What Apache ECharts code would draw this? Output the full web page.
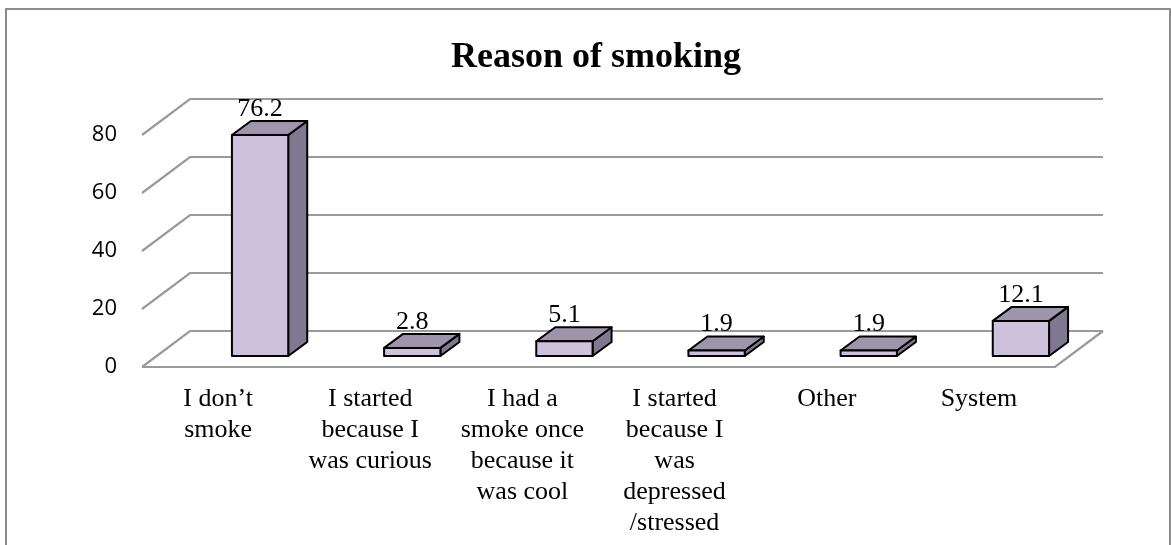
<!DOCTYPE html>
<html>
<head>
<meta charset="utf-8">
<script src="https://cdn.jsdelivr.net/npm/echarts@6.0.0/dist/echarts.min.js"></script>
<style>
  html, body { margin: 0; padding: 0; background: #fff; }
  #chart { width: 1171px; height: 545px; }
</style>
</head>
<body>
<div id="chart"></div>
<script>
// data
const categories = [
    'I don’t\nsmoke',
    'I started\nbecause I\nwas curious',
    'I had a\nsmoke once\nbecause it\nwas cool',
    'I started\nbecause I\nwas\ndepressed\n/stressed',
    'Other',
    'System'
];
const values = [76.2, 2.8, 5.1, 1.9, 1.9, 12.1];
const yTicks = [0, 20, 40, 60, 80];

// fake 3d look (pixels)
const WALL_DX = 48, WALL_DY = 36;
const BAR_DX = 19, BAR_DY = 14;
const BAR_LIFT = 11;
const GRID_COLOR = '#9a9a9a';

const serif = '"Liberation Serif", "Times New Roman", serif';

function renderWalls(params, api) {
    const v = api.value(1);
    const y = api.coord([0, v])[1];
    const cs = params.coordSys;
    const x0 = cs.x, x1 = cs.x + cs.width;
    const lineStyle = { stroke: GRID_COLOR, lineWidth: 2.2, fill: null };
    const children = [{
        type: 'polyline',
        shape: { points: [[x0, y], [x0 + WALL_DX, y - WALL_DY], [x1 + WALL_DX, y - WALL_DY]] },
        style: lineStyle
    }];
    if (v === 0) {
        children.push({
            type: 'polyline',
            shape: { points: [[x0, y], [x1, y], [x1 + WALL_DX, y - WALL_DY]] },
            style: lineStyle
        });
    }
    return { type: 'group', children: children };
}

function renderBar(params, api) {
    const i = api.value(0), v = api.value(1);
    const base = api.coord([i, 0]);
    const top = api.coord([i, v]);
    const band = api.size([1, 0])[0];
    const w = band * 0.37;
    const cx = base[0] + band * 0.276;
    const xl = cx - w / 2, xr = cx + w / 2;
    const yb = base[1] - BAR_LIFT, yt = top[1] - BAR_LIFT;
    const edge = { stroke: '#000', lineWidth: 2, lineJoin: 'round' };
    return {
        type: 'group',
        children: [
            {
                type: 'polygon',
                shape: { points: [[xr, yb], [xr, yt], [xr + BAR_DX, yt - BAR_DY], [xr + BAR_DX, yb - BAR_DY]] },
                style: Object.assign({ fill: '#807790' }, edge)
            },
            {
                type: 'polygon',
                shape: { points: [[xl, yt], [xr, yt], [xr + BAR_DX, yt - BAR_DY], [xl + BAR_DX, yt - BAR_DY]] },
                style: Object.assign({ fill: '#9e94ac' }, edge)
            },
            {
                type: 'rect',
                shape: { x: xl, y: yt, width: w, height: yb - yt },
                style: Object.assign({ fill: '#cdc1dc' }, edge)
            },
            {
                type: 'text',
                x: cx, y: yt - BAR_DY + 1,
                style: {
                    text: String(v),
                    font: '26px ' + serif,
                    fill: '#000',
                    align: 'center',
                    verticalAlign: 'bottom'
                }
            }
        ]
    };
}

const chart = echarts.init(document.getElementById('chart'), null, { renderer: 'canvas' });
chart.setOption({
    animation: false,
    backgroundColor: '#fff',
    title: {
        text: 'Reason of smoking',
        left: 591,
        top: 35,
        textAlign: 'center',
        textStyle: { fontFamily: serif, fontSize: 36, fontWeight: 'bold', color: '#000' }
    },
    graphic: [{
        type: 'rect',
        shape: { x: 6, y: 9, width: 1164, height: 600 },
        style: { fill: 'none', stroke: '#8c8c8c', lineWidth: 2 },
        silent: true
    }],
    grid: { left: 142, right: 116, top: 135, bottom: 178 },
    xAxis: {
        type: 'category',
        data: categories,
        axisLine: { show: false },
        axisTick: { show: false },
        axisLabel: {
            interval: 0,
            margin: 17,
            fontFamily: serif,
            fontSize: 26,
            lineHeight: 31,
            color: '#000',
            align: 'center'
        }
    },
    yAxis: {
        type: 'value',
        min: 0,
        max: 80,
        interval: 20,
        splitLine: { show: false },
        axisLine: { show: false },
        axisTick: { show: false },
        axisLabel: { margin: 25, fontFamily: '"Open Sans", sans-serif', fontSize: 22, color: '#000', padding: [4, 0, 0, 0] }
    },
    series: [
        {
            type: 'custom',
            name: 'walls',
            silent: true,
            z: 1,
            data: yTicks.map(t => [0, t]),
            renderItem: renderWalls
        },
        {
            type: 'custom',
            name: 'Reason of smoking',
            z: 2,
            data: values.map((v, i) => [i, v]),
            renderItem: renderBar
        }
    ]
});
</script>
</body>
</html>
